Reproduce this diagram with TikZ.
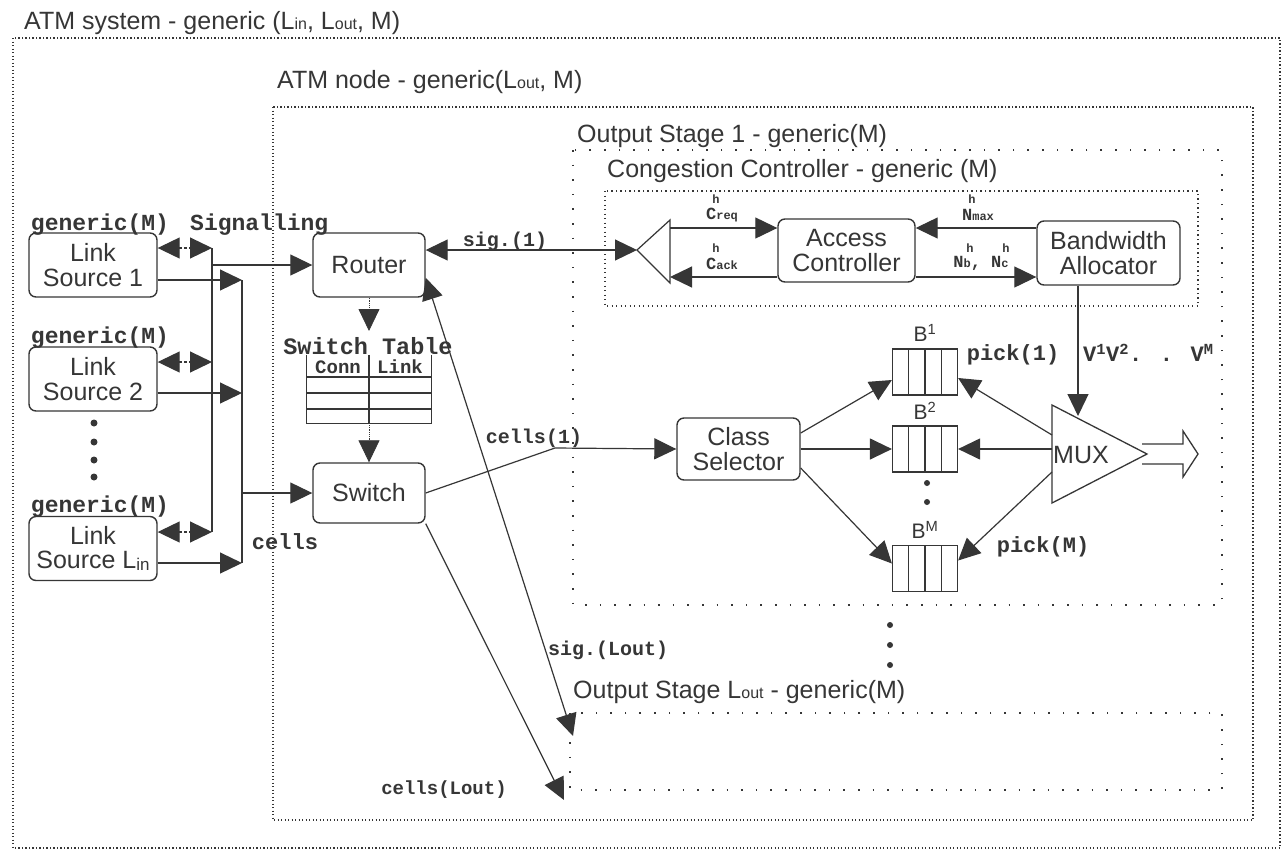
\documentclass[tikz,border=0pt]{standalone}
\usepackage{fontspec}
\setmainfont{Liberation Sans}
\newfontfamily\monof{Liberation Mono}
\usetikzlibrary{arrows.meta}
\definecolor{ink}{HTML}{363636}
\newcommand\fs[1]{\fontsize{#1}{#1}\selectfont}
\newcommand\sm[2]{{\fontsize{#1}{#1}\selectfont #2}}
\begin{document}
\begin{tikzpicture}[x=1pt,y=-1pt,
  every node/.style={text=ink},
  box/.style={draw=ink,line width=1.4pt,rounded corners=7pt,inner sep=0pt,align=center,font=\fontsize{25}{24.5}\selectfont},
  lbl/.style={font=\monof\bfseries\fs{22},inner sep=0pt},
  slbl/.style={font=\monof\bfseries\fs{20},inner sep=0pt},
  ttl/.style={font=\fs{25},inner sep=0pt,anchor=base west},
  tip/.style={-{Triangle[length=22pt,width=21pt]}},
  dtip/.style={{Triangle[length=22pt,width=21pt]}-{Triangle[length=22pt,width=21pt]}},
  conn/.style={draw=ink,line width=1.2pt},
  bus/.style={draw=ink,line width=2.6pt},
  dense/.style={draw=ink,line width=1.1pt,dash pattern=on 1.1pt off 2.4pt},
  sparse/.style={draw=ink,line width=1.6pt,dash pattern=on 1.6pt off 13pt},
  ccd/.style={draw=ink,line width=1.3pt,dash pattern=on 1.3pt off 3.2pt},
  queue/.style={draw=ink,line width=1.2pt,minimum width=65pt,minimum height=46pt,inner sep=0pt,
    path picture={\foreach \f in {-16.25,0,16.25} \draw[ink,line width=1.1pt] ([xshift=\f pt]path picture bounding box.north) -- ([xshift=\f pt]path picture bounding box.south);}},
  bl/.style={font=\fs{21},inner sep=0pt},
  sub/.style={font=\monof\bfseries\fs{17},inner sep=0pt},
  hh/.style={font=\monof\bfseries\fs{12},inner sep=0pt},
]
\useasboundingbox (0,0) rectangle (1284,857);
\fill[white] (0,0) rectangle (1284,857);

% ---- frames and titles
\node[ttl] (tsys) at (24,29) {ATM system - generic (L\sm{16}{in}, L\sm{16}{out}, M)};
\draw[dense] (13,38) rectangle (1280,848);
\node[ttl] (tnode) at (277,88) {ATM node - generic(L\sm{16}{out}, M)};
\draw[dense] (273,107) rectangle (1253,820);
\node[ttl] (tos1) at (577,142) {Output Stage 1 - generic(M)};
\draw[sparse] (573,150) rectangle (1222,605);
\node[ttl] (tcc) at (607,177) {Congestion Controller - generic (M)};
\draw[ccd] (605,191) rectangle (1198,306);
\node[ttl] (tosl) at (573,698) {Output Stage L\sm{16}{out} - generic(M)};
\draw[sparse] (570,713) rectangle (1222,790);

% ---- link sources
\node[box,minimum width=128pt,minimum height=64pt] (ls1) at (93,265) {Link\\Source 1};
\node[box,minimum width=128pt,minimum height=64pt] (ls2) at (93,379) {Link\\Source 2};
\node[box,minimum width=128pt,minimum height=64pt] (lsn) at (93,548.5) {Link\\Source L\raisebox{-2pt}{\sm{17}{in}}};
\node[lbl,font=\monof\bfseries\fs{23}] (g1) at (100,225) {generic(M)};
\node[lbl,font=\monof\bfseries\fs{23}] (g2) at (100,338) {generic(M)};
\node[lbl,font=\monof\bfseries\fs{23}] (gn) at (100,507) {generic(M)};
\foreach \yy in {423,442,460,477} \fill[ink] (94,\yy) circle (3.5pt);

% ---- buses
\coordinate (sbT) at (212,248); \coordinate (sbM) at (212,362); \coordinate (sbB) at (212,532);
\coordinate (cbT) at (242,280); \coordinate (cbM) at (242,393); \coordinate (cbB) at (242,563);
\coordinate (rin) at (212,265); \coordinate (swin) at (242,493);
\draw[bus] (sbT) -- (sbB);
\draw[bus] (cbT) -- (cbB);
\draw[conn,densely dashed,dtip] (ls1.east |- sbT) -- (sbT);
\draw[conn,densely dashed,dtip] (ls2.east |- sbM) -- (sbM);
\draw[conn,densely dashed,dtip] (lsn.east |- sbB) -- (sbB);
\draw[conn,tip] (ls1.east |- cbT) -- (cbT);
\draw[conn,tip] (ls2.east |- cbM) -- (cbM);
\draw[conn,tip] (lsn.east |- cbB) -- (cbB);
\node[lbl,anchor=west,font=\monof\bfseries\fs{23}] (sigtxt) at (190,225) {Signalling};
\node[lbl] (cellstxt) at (285,542) {cells};

% ---- router, table, switch
\node[box,minimum width=112pt,minimum height=64pt] (router) at (369,265) {Router};
\node[box,minimum width=112pt,minimum height=60pt] (switch) at (369,493) {Switch};
\draw[conn,tip] (rin) -- (router.west |- rin);
\draw[conn,tip] (swin) -- (switch.west);
\node[font=\monof\bfseries\fs{23.5},inner sep=0pt] (tabtitle) at (368,346) {Switch Table};
\coordinate (tabin) at (369,331);
\node[minimum width=125pt,minimum height=68pt,inner sep=0pt] (table) at (369,389) {};
\draw[ink,line width=1.2pt] (table.north west) -- (table.south west) -- (table.south east) -- (table.north east);
\draw[ink,line width=1.2pt] (table.north) -- (table.south);
\foreach \yy in {377,393,409} \draw[ink,line width=1.2pt] (306.5,\yy) -- (431.5,\yy);
\node[font=\monof\bfseries\fs{19},inner sep=0pt] (conn) at (338,367) {Conn};
\node[font=\monof\bfseries\fs{19},inner sep=0pt] (link) at (400,367) {Link};
\draw[conn,line width=0.8pt,densely dotted,tip] (router.south) -- (tabin);
\draw[conn,line width=0.8pt,densely dotted,tip] (table.south) -- (switch.north);

% ---- congestion controller
\coordinate (spl) at (637,250); \coordinate (splT) at (670,220); \coordinate (splB) at (670,283);
\draw[conn] (splT) -- (spl) -- (splB) -- cycle;
\node[box,minimum width=137pt,minimum height=63pt] (ac) at (846.5,250.5) {Access\\Controller};
\node[box,minimum width=143pt,minimum height=64pt] (ba) at (1108.5,253) {Bandwidth\\Allocator};
\coordinate (creqS) at (670,228); \coordinate (cackE) at (670,277);
\draw[conn,dtip] (router.east |- spl) -- (spl);
\node[slbl] (sig1) at (505,241) {sig.(1)};
\draw[conn,tip] (creqS) -- (ac.west |- creqS);
\draw[conn,tip] (ac.west |- cackE) -- (cackE);
\draw[conn,tip] (ba.west |- creqS) -- (ac.east |- creqS);
\draw[conn,tip] (ac.east |- cackE) -- (ba.west |- cackE);
\node[sub] (creq) at (722,215) {C\sm{12}{req}};
\node[hh] at (716,199) {h};
\node[sub] (cack) at (722,264) {C\sm{12}{ack}};
\node[hh] at (716,248) {h};
\node[sub] (nmax) at (978,215) {N\sm{12}{max}};
\node[hh] at (972,199) {h};
\node[sub] (nbnc) at (981,263) {N\sm{12}{b}, N\sm{12}{c}};
\node[hh] at (970,248) {h};
\node[hh] at (1006,248) {h};

% ---- output stage
\node[box,minimum width=123pt,minimum height=62pt] (cs) at (738.5,449) {Class\\Selector};
\node[queue] (q1) at (925,372) {};
\node[queue] (q2) at (925,449) {};
\node[queue] (qm) at (925,568.5) {};
\node[bl] at (925,333) {B\textsuperscript{1}};
\node[bl] at (925,411) {B\textsuperscript{2}};
\node[bl] at (925,530) {B\textsuperscript{M}};
\fill[ink] (927,483) circle (3pt);
\fill[ink] (927,502) circle (3pt);
\coordinate (c1in) at (555,448);
\draw[conn,tip] (switch.east) -- (c1in) -- (cs.west);
\node[slbl] (cells1) at (534,438) {cells(1)};
\draw[conn,tip] ([yshift=16pt]cs.east) -- ([yshift=-8pt]q1.west);
\draw[conn,tip] (cs.east) -- (q2.west);
\draw[conn,tip] ([yshift=-19pt]cs.east) -- ([yshift=5pt]qm.west);
\coordinate (mA) at (1052,405); \coordinate (mB) at (1052,503); \coordinate (mT) at (1147,454);
\draw[conn,line width=1.3pt] (mA) -- (mT) -- (mB) -- cycle;
\node[font=\fs{25},inner sep=0pt] (mux) at (1081,455) {MUX};
\coordinate (p1) at (1052,435); \coordinate (p2) at (1052,449); \coordinate (pm) at (1052,472);
\draw[conn,tip] (p1) -- ([yshift=-6pt]q1.east);
\draw[conn,tip] (p2) -- (q2.east);
\draw[conn,tip] (pm) -- ([yshift=8pt]qm.east);
\node[lbl] (pick1) at (1013,355) {pick(1)};
\node[lbl] (pickm) at (1043,547) {pick(M)};
\coordinate (muxin) at (1078,416);
\draw[conn,tip] (ba.south -| muxin) -- (muxin);
\node[lbl,anchor=west] (vv) at (1083,353) {V\textsuperscript{1}V\textsuperscript{2}. . V\textsuperscript{M}};
\draw[conn,line width=1.3pt] (1142,444) -- (1183,444) -- (1183,431) -- (1198,454) -- (1183,477) -- (1183,464) -- (1142,464);
\foreach \yy in {625,645,665} \fill[ink] (890,\yy) circle (3pt);

% ---- to output stage Lout
\coordinate (sigL) at (573,736); \coordinate (cellsL) at (564,800);
\draw[conn,dtip] ([yshift=20pt]router.south east) -- (sigL);
\draw[conn,tip] (switch.south east) -- (cellsL);
\node[slbl,anchor=west] (sigLt) at (548,650) {sig.(Lout)};
\node[slbl,font=\monof\bfseries\fs{19}] (cellsLt) at (444,790) {cells(Lout)};
\end{tikzpicture}
\end{document}
